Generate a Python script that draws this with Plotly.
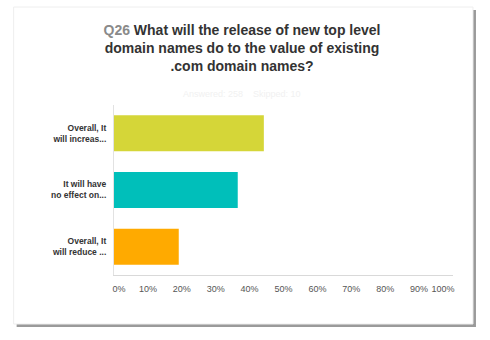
import plotly.graph_objects as go

categories = ["Overall, It<br>will increas...", "It will have<br>no effect on...", "Overall, It<br>will reduce ..."]
values = [44.2, 36.5, 19.1]
colors = ["#D5D638", "#00BFBA", "#FFAA00"]
tick_vals = [0, 10, 20, 30, 40, 50, 60, 70, 80, 90, 100]
tick_text = ["&nbsp;&nbsp;&nbsp;&nbsp;0%"] + [f"{v}%" for v in tick_vals[1:-1]] + ["100%" + "&nbsp;" * 8]

W, H = 490, 340
L, R, T, B = 113.5, 453, 105, 275

def px(x):
    return (x - L) / (R - L)

def py(y):
    return (B - y) / (B - T)

fig = go.Figure()
fig.add_trace(go.Bar(
    y=categories, x=values, orientation="h",
    marker=dict(color=colors, line=dict(width=0)),
    hoverinfo="skip",
))

shapes = [
    dict(type="rect", xref="paper", yref="paper", layer="below",
         x0=px(16), x1=px(476), y0=py(327), y1=py(10),
         fillcolor="#9a9a9a", line=dict(width=0)),
    dict(type="rect", xref="paper", yref="paper", layer="below",
         x0=px(13), x1=px(473), y0=py(324), y1=py(7),
         fillcolor="#ffffff", line=dict(color="#eeeeee", width=1)),
]

fig.update_layout(
    width=W, height=H,
    margin=dict(l=L, r=W - R, t=T, b=H - B),
    paper_bgcolor="#ffffff",
    plot_bgcolor="#F0EFEE",
    showlegend=False,
    bargap=0.365,
    shapes=shapes,
    font=dict(family="Liberation Sans, Arial, sans-serif"),
    title=dict(
        text="<span style='color:#8a8a8a'>Q26</span> What will the release of new top level<br>domain names do to the value of existing<br>.com domain names?",
        x=242 / W, xanchor="center", xref="container",
        y=1 - 35 / H, yanchor="top", yref="container",
        font=dict(size=14, color="#333333", family="Liberation Sans, Arial, sans-serif", weight="bold"),
    ),
    annotations=[dict(
        text="Answered: 258    Skipped: 10", xref="paper", yref="paper",
        x=px(242), y=py(87), showarrow=False,
        font=dict(size=9, color="#f1f1f1"),
    )],
    xaxis=dict(
        range=[0, 100], tickvals=tick_vals, ticktext=tick_text,
        showgrid=True, gridcolor="#ffffff", gridwidth=1,
        showline=True, linecolor="#d9d9d9", linewidth=1,
        zeroline=False, ticks="", ticklabelstandoff=5,
        tickfont=dict(size=9, color="#555555"),
        fixedrange=True,
    ),
    yaxis=dict(
        autorange="reversed", showgrid=False, zeroline=False,
        showline=True, linecolor="#e2e2e2", linewidth=1,
        ticks="", ticklabelstandoff=5,
        tickfont=dict(size=8.5, color="#333333", weight="bold"),
        fixedrange=True,
    ),
)

fig.write_html("out.html")
